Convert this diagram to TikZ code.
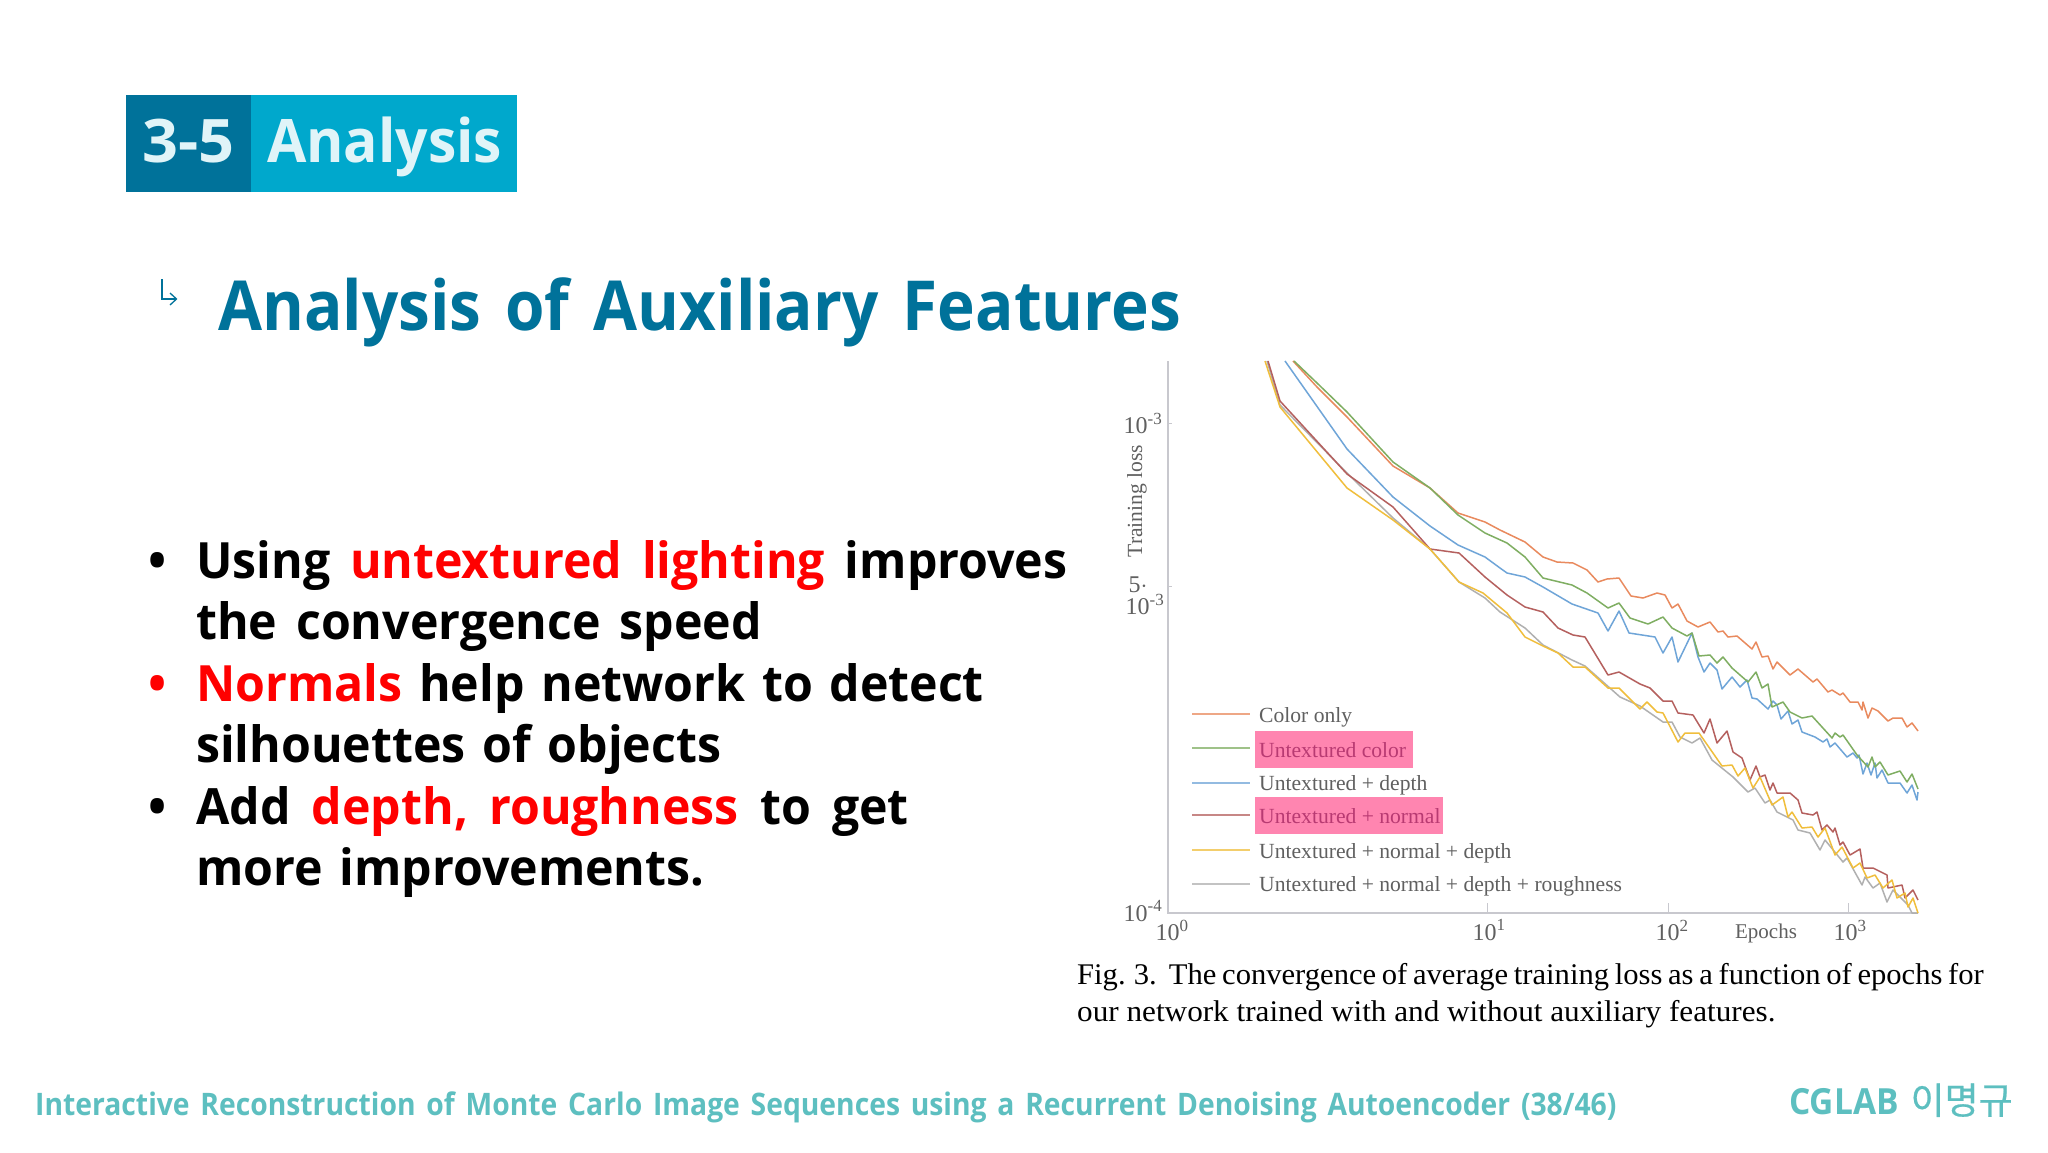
\documentclass[tikz,border=0pt]{standalone}
\usepackage{fontspec}
\setmainfont{Open Sans}
\newfontfamily\bodyF[FakeStretch=0.965,WordSpace=1.45]{Open Sans}
\newfontfamily\titleF[FakeStretch=0.925,WordSpace=1.45]{Open Sans}
\newfontfamily\headF[FakeStretch=0.95]{Open Sans}
\newfontfamily\numF[FakeStretch=1.05]{Open Sans}
\newfontfamily\footF[FakeStretch=0.912,WordSpace=1.47]{Open Sans}
\newfontfamily\cglabF[FakeStretch=0.93]{Open Sans}
\newfontfamily\serifplot{Liberation Serif}
\newfontfamily\capfont[FakeStretch=1.04]{Liberation Serif}
\newfontfamily\capfontB[FakeStretch=1.02]{Liberation Serif}
\newfontfamily\krfont[FakeBold=0.6]{Noto Sans CJK KR}
\definecolor{hdark}{HTML}{00729A}
\definecolor{hlight}{HTML}{00A8CC}
\definecolor{hpale}{HTML}{E0F4F8}
\definecolor{redtxt}{HTML}{FF0000}
\definecolor{foot}{HTML}{5DBFC0}
\definecolor{axisc}{HTML}{C8C8CE}
\definecolor{plottxt}{HTML}{606060}
\definecolor{pinkbg}{HTML}{FF85B0}
\definecolor{pinktxt}{HTML}{B83A72}
\definecolor{corange}{HTML}{E98A5E}
\definecolor{cgreen}{HTML}{7FAE62}
\definecolor{cblue}{HTML}{6FA5D8}
\definecolor{cred}{HTML}{B5605E}
\definecolor{cyellow}{HTML}{F0BE3C}
\definecolor{cgrey}{HTML}{B0B0B0}
\tikzset{
  body/.style={anchor=base west,inner sep=0pt,font=\bodyF\fontsize{50}{50}\selectfont\bfseries,text=black},
  ptxt/.style={inner sep=0pt,font=\serifplot\fontsize{21}{21}\selectfont,text=plottxt},
  numt/.style={ptxt,anchor=center,font=\serifplot\fontsize{24}{24}\selectfont},
  legt/.style={ptxt,anchor=west,font=\serifplot\fontsize{21.6}{21.6}\selectfont},
  capt/.style={anchor=base west,inner sep=0pt,font=\capfont\fontsize{30}{30}\selectfont,text=black},
  curve/.style={line width=1.5pt,line join=round},
  legl/.style={line width=1.3pt,opacity=0.75},
  axl/.style={line width=1.5pt,draw=axisc},
  tick/.style={line width=1pt,draw=axisc},
}
\newcommand{\supn}[1]{10$^{\mbox{\fontsize{17}{17}\selectfont #1}}$}
\begin{document}
\begin{tikzpicture}[x=1pt,y=-1pt]
\useasboundingbox (0,0) rectangle (2048,1152);
\fill[white] (0,0) rectangle (2048,1152);
% header
\fill[hlight] (251,95) rectangle (517,192);
\fill[hdark] (126,95) rectangle (251,192);
\node[anchor=base,inner sep=0pt,text=hpale,font=\numF\fontsize{60}{60}\selectfont\bfseries] (hnum) at (188.5,162) {3-5};
\node[anchor=base west,inner sep=0pt,text=hpale,font=\headF\fontsize{60}{60}\selectfont\bfseries] (htitle) at (267,162) {Analysis};
% subtitle
\draw[hdark,line width=1.3pt] (162,279) -- (162,299) -- (176,299);
\draw[hdark,line width=1.3pt] (170,293) -- (176.5,299) -- (170,305);
\node[anchor=base west,inner sep=0pt,text=hdark,font=\titleF\fontsize{69}{69}\selectfont\bfseries] (sub) at (218,330) {Analysis of Auxiliary Features};
% bullets
\node[body] (b1) at (148,578) {•};
\node[body,text=redtxt] (b2) at (148,701) {•};
\node[body] (b3) at (148,824) {•};
\node[body] (l1) at (196,578) {\spaceskip=19.7pt Using \textcolor{redtxt}{untextured lighting} improves};
\node[body] (l2) at (196,639.5) {\spaceskip=19pt the convergence speed};
\node[body] (l3) at (196,701) {\spaceskip=16.7pt \textcolor{redtxt}{Normals} help network to detect};
\node[body] (l4) at (196,762) {\spaceskip=16.7pt silhouettes of objects};
\node[body] (l5) at (196,824) {\spaceskip=21.2pt Add \textcolor{redtxt}{depth, roughness} to get};
\node[body] (l6) at (196,885) {\spaceskip=16.7pt more improvements.};
% plot axes
\draw[axl] (1168,361) -- (1168,913) -- (1918,913);
\draw[tick] (1168,423) -- (1172,423);
\draw[tick] (1168,586) -- (1172,586);
\draw[tick] (1487.5,903) -- (1487.5,913);
\draw[tick] (1668,903) -- (1668,913);
\draw[tick] (1848,903) -- (1848,913);
% curves
\draw[curve,cgrey] plot coordinates {(1267,361)(1280,405)(1347,473)(1393,518)(1430,549)(1459,582)(1485,598)(1500,612)(1525,628)(1543,645)(1572,660)(1585,666)(1620,697)(1640,706)(1663,722)(1672,722)(1680,737)(1692,743)(1700,738)(1712,760)(1733,777)(1748,792)(1755,788)(1765,803)(1770,800)(1777,812)(1793,820)(1798,830)(1810,833)(1820,850)(1825,840)(1843,862)(1847,858)(1862,885)(1865,877)(1873,888)(1880,883)(1887,902)(1893,890)(1908,905)(1912,913)(1918,913)};
\draw[curve,corange] plot coordinates {(1293,361)(1317,387)(1347,417)(1393,466)(1430,488)(1458,513)(1485,522)(1500,530)(1525,542)(1543,557)(1557,562)(1573,563)(1587,570)(1598,582)(1607,579)(1619,578)(1631,596)(1643,598)(1657,593)(1665,595)(1672,608)(1678,604)(1687,621)(1698,627)(1710,622)(1718,632)(1723,631)(1728,637)(1737,636)(1752,649)(1756,642)(1762,657)(1768,656)(1773,669)(1777,662)(1790,675)(1798,669)(1813,682)(1817,679)(1828,692)(1832,690)(1840,695)(1843,693)(1850,702)(1858,702)(1862,710)(1863,702)(1868,718)(1872,708)(1878,711)(1888,721)(1893,718)(1902,718)(1907,727)(1912,723)(1918,731)};
\draw[curve,cblue] plot coordinates {(1285,361)(1347,449)(1393,497)(1430,526)(1458,545)(1485,557)(1500,568)(1507,573)(1525,577)(1543,587)(1572,604)(1598,613)(1608,631)(1619,611)(1629,633)(1655,637)(1663,653)(1672,637)(1678,662)(1692,633)(1698,657)(1704,672)(1710,663)(1717,670)(1722,689)(1732,677)(1740,687)(1747,680)(1752,698)(1757,699)(1768,709)(1773,701)(1777,705)(1781,719)(1788,711)(1792,724)(1798,720)(1802,732)(1815,737)(1823,742)(1827,739)(1830,747)(1835,743)(1847,757)(1853,753)(1857,758)(1859,755)(1863,774)(1867,763)(1871,775)(1875,763)(1877,778)(1882,770)(1888,783)(1900,783)(1907,793)(1912,785)(1917,800)(1918,792)};
\draw[curve,cgreen] plot coordinates {(1294,361)(1317,383)(1347,412)(1393,462)(1430,488)(1458,515)(1485,533)(1507,543)(1525,557)(1543,578)(1572,585)(1587,593)(1608,608)(1619,603)(1630,618)(1648,624)(1663,617)(1672,628)(1687,636)(1692,633)(1699,656)(1710,655)(1717,663)(1723,657)(1732,668)(1748,682)(1756,672)(1762,688)(1768,684)(1772,707)(1783,702)(1790,712)(1802,718)(1812,716)(1832,738)(1835,733)(1840,737)(1843,735)(1857,755)(1868,767)(1872,757)(1875,767)(1880,762)(1888,775)(1900,771)(1907,782)(1912,774)(1918,789)};
\draw[curve,cred] plot coordinates {(1268,361)(1280,401)(1347,474)(1393,507)(1430,549)(1459,553)(1485,577)(1507,595)(1525,607)(1543,612)(1558,628)(1573,635)(1585,637)(1608,675)(1619,672)(1640,684)(1650,688)(1663,701)(1672,701)(1678,713)(1693,715)(1704,733)(1710,719)(1717,743)(1727,731)(1733,752)(1742,758)(1750,780)(1756,766)(1760,777)(1765,775)(1770,790)(1773,783)(1777,793)(1790,793)(1798,800)(1802,813)(1813,815)(1817,812)(1822,830)(1827,825)(1833,832)(1835,828)(1840,845)(1843,842)(1850,855)(1860,849)(1863,868)(1873,868)(1887,875)(1888,888)(1902,885)(1905,898)(1913,890)(1918,900)};
\draw[curve,cyellow] plot coordinates {(1265,361)(1280,407)(1347,488)(1393,520)(1430,549)(1459,582)(1483,593)(1507,613)(1525,637)(1543,646)(1558,653)(1573,667)(1585,667)(1608,688)(1619,688)(1640,709)(1647,702)(1657,712)(1663,713)(1678,742)(1685,733)(1699,733)(1722,766)(1732,765)(1738,776)(1745,768)(1753,788)(1760,777)(1772,805)(1783,797)(1788,817)(1792,812)(1802,828)(1812,827)(1818,837)(1825,828)(1835,855)(1842,847)(1853,868)(1860,863)(1867,878)(1875,875)(1883,888)(1892,880)(1897,898)(1905,893)(1908,907)(1913,898)(1918,913)};
% axis labels
\node[numt] (t3) at (1143,423) {\supn{-3}};
\node[numt] (t5a) at (1138,585) {5$\cdot$};
\node[numt] (t5b) at (1145,604) {\supn{-3}};
\node[numt] (t4) at (1143,911) {\supn{-4}};
\node[ptxt,rotate=90,font=\serifplot\fontsize{21.6}{21.6}\selectfont] (ylab) at (1137,501) {Training loss};
\node[numt] (x0) at (1172,930) {\supn{0}};
\node[numt] (x1) at (1489,930) {\supn{1}};
\node[numt] (x2) at (1672,930) {\supn{2}};
\node[numt] (x3) at (1850,930) {\supn{3}};
\node[ptxt] (xlab) at (1766,933) {Epochs};
% legend
\fill[pinkbg] (1255,731) rectangle (1412.5,768);
\fill[pinkbg] (1255,797) rectangle (1443,834);
\draw[legl,corange] (1192,714) -- (1250,714);
\draw[legl,cgreen] (1192,748) -- (1250,748);
\draw[legl,cblue] (1192,783) -- (1250,783);
\draw[legl,cred] (1192,815) -- (1250,815);
\draw[legl,cyellow] (1192,850) -- (1250,850);
\draw[legl,cgrey] (1192,884) -- (1250,884);
\node[legt] (e1) at (1259,717) {Color only};
\node[legt,text=pinktxt] (e2) at (1259,750) {Untextured color};
\node[legt] (e3) at (1259,785) {Untextured + depth};
\node[legt,text=pinktxt] (e4) at (1259,816) {Untextured + normal};
\node[legt] (e5) at (1259,853) {Untextured + normal + depth};
\node[legt] (e6) at (1259,886) {Untextured + normal + depth + roughness};
% caption
\node[capt,font=\capfontB\fontsize{30}{30}\selectfont] (c1) at (1077,984) {\spaceskip=5.7pt Fig. 3.\hspace{0.4em}The convergence of average training loss as a function of epochs for};
\node[capt] (c2) at (1077,1021) {our network trained with and without auxiliary features.};
% footer
\node[anchor=base west,inner sep=0pt,text=foot,font=\footF\fontsize{31}{31}\selectfont\bfseries] (f1) at (35,1115) {Interactive Reconstruction of Monte Carlo Image Sequences using a Recurrent Denoising Autoencoder (38/46)};
\node[anchor=base west,inner sep=0pt,text=foot,font=\cglabF\fontsize{36}{36}\selectfont\bfseries] (f2) at (1789,1114) {CGLAB\hspace{12pt}{\krfont\mdseries\fontsize{37}{37}\selectfont 이명규}};
\end{tikzpicture}
\end{document}
